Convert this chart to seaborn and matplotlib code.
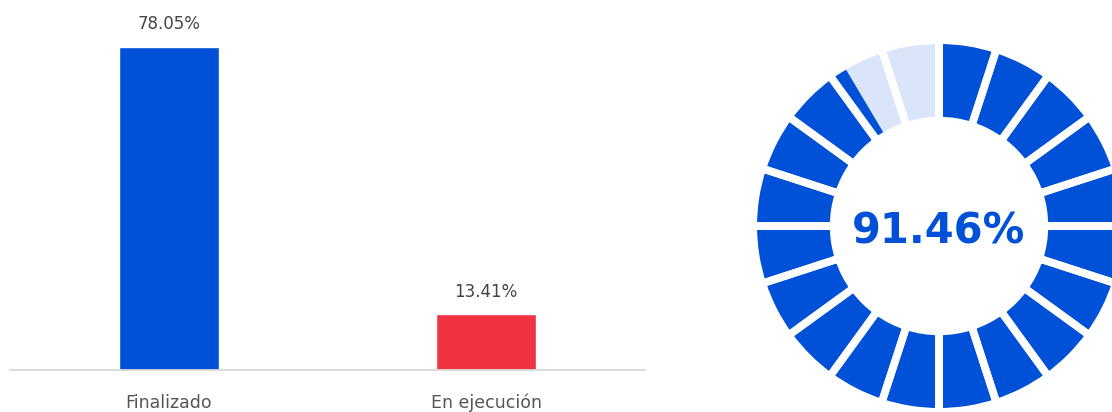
import matplotlib
matplotlib.use("Agg")
import matplotlib.pyplot as plt
import seaborn as sns

# data
estados = ["Finalizado", "En ejecución"]
porcentajes = [78.05, 13.41]
colores_barras = ["#0050d8", "#ef3340"]

avance = 91.46          # gauge value
n_segmentos = 20        # segments in the ring

azul = "#0050d8"
azul_claro = "#dae5fa"

sns.set_theme(style="white")
plt.rcParams["font.family"] = ["DejaVu Sans"]

fig = plt.figure(figsize=(11.12, 4.12), dpi=100)

# bar chart
ax = fig.add_axes([0.009, 0.102, 0.571, 0.874])
sns.barplot(x=estados, y=porcentajes, hue=estados, palette=colores_barras,
            width=0.315, legend=False, ax=ax, saturation=1)
ax.set_ylim(0, 86.99)
ax.set_xlim(-0.5, 1.5)
for c in ax.containers:
    ax.bar_label(c, labels=[f"{v:.2f}%" for v in c.datavalues],
                 padding=10, fontsize=12, color="#444444")
sns.despine(ax=ax, left=True)
ax.spines["bottom"].set_color("#d9d9d9")
ax.spines["bottom"].set_linewidth(1.3)
ax.set_yticks([])
ax.set_xlabel("")
ax.set_ylabel("")
ax.tick_params(axis="x", length=0, pad=17, labelsize=12.5, labelcolor="#555555")

# segmented gauge
ax2 = fig.add_axes([0.6808, 0.0097, 0.3273, 0.8835])
ax2.set_aspect("equal")
lw = 5.5
r = 1.021
w = 0.442
seg = [1] * n_segmentos
ax2.pie(seg, colors=[azul_claro] * n_segmentos, radius=r, startangle=90,
        counterclock=False, wedgeprops=dict(width=w, linewidth=0))
ax2.pie([avance, 100 - avance], colors=[azul, "none"], radius=r, startangle=90,
        counterclock=False, wedgeprops=dict(width=w, linewidth=0))
ax2.pie(seg, colors=["none"] * n_segmentos, radius=r, startangle=90,
        counterclock=False,
        wedgeprops=dict(width=w, linewidth=lw, edgecolor="white"))
ax2.text(0, -0.03, f"{avance:.2f}%", ha="center", va="center",
         fontsize=30, fontweight="bold", color=azul)
ax2.set_xlim(-1, 1)
ax2.set_ylim(-1, 1)
ax2.axis("off")

fig.savefig("out.png", dpi=100)
